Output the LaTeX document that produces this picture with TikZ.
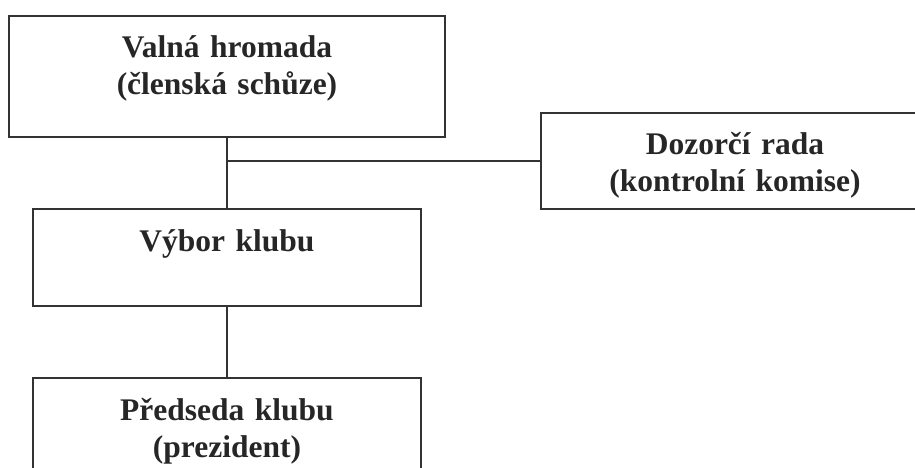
\documentclass[tikz,border=0pt]{standalone}
\usepackage{fontspec}
\setmainfont{Liberation Serif}
\usepackage{tikz}

\begin{document}
\begin{tikzpicture}[
        every node/.style = {font=\bfseries\fontsize{31.5}{37}\selectfont, text=black!85},
        orgbox/.style 2 args = {draw=black!80, line width=2pt, inner sep=0pt,
            align=center, text width=#1, text height=42pt, text depth=#2},
        conn/.style = {draw=black!80, line width=2pt}
    ]
            \useasboundingbox (-227pt,-391.5pt) rectangle (688pt,76.5pt);

            \node (valna) [orgbox={436pt}{79pt}] {Valná hromada\\(členská schůze)};
            \node (vybor) [orgbox={388pt}{54pt}, below of=valna, node distance=181pt] {Výbor klubu};
            \node (predseda) [orgbox={388pt}{55pt}, below of=vybor, node distance=169pt] {Předseda klubu\\(prezident)};
            \node (dozor) [orgbox={388pt}{54pt}, right of=valna, node distance=508pt, yshift=-84.5pt] {Dozorčí rada\\(kontrolní komise)};

            \draw[conn] (valna.south) -- (vybor.north);
            \draw[conn] (vybor.south) -- (predseda.north);
            \draw[conn] (dozor.west) -- (dozor.west -| valna.south);
        \end{tikzpicture}
\end{document}
